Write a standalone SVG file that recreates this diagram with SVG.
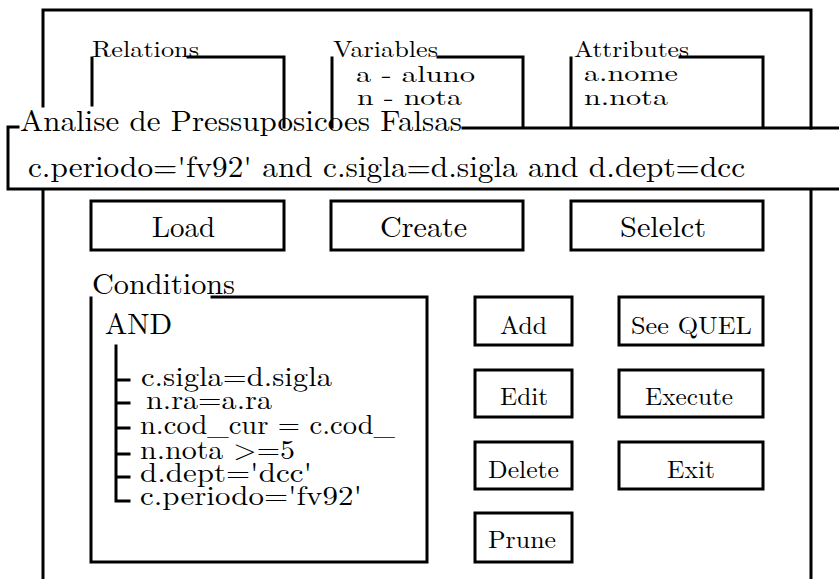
<svg xmlns="http://www.w3.org/2000/svg" width="839" height="579" viewBox="0 0 839 579">
  <style>
    .ln { fill: none; stroke: #000; stroke-width: 3; stroke-linecap: square; }
    .box { fill: none; stroke: #000; stroke-width: 3; }
    text { fill: #000; font-family: "Latin Modern Roman", "CMU Serif", "Noto Serif", "Nimbus Roman", "TeX Gyre Termes", FreeSerif, "Liberation Serif", Tinos, "Times New Roman", Times, "DejaVu Serif", serif; }
    .big { font-size: 29px; }
    .mid { font-size: 27px; }
    .btn { font-size: 25px; }
    .sm { font-size: 23px; }
  </style>
  <rect width="839" height="579" fill="#fff"/>

  <!-- main window frame -->
  <g id="window">
    <path class="ln" d="M43,106 V10 H811 V128"/>
    <path class="ln" d="M43,190 V579 M811,190 V579"/>
  </g>

  <!-- list panels -->
  <g id="relations">
    <path class="ln" d="M92,105 V58 M188,57 H284 V127"/>
    <text class="sm" x="92" y="57" textLength="107" lengthAdjust="spacingAndGlyphs">Relations</text>
  </g>
  <g id="variables">
    <path class="ln" d="M332,127 V58 M438,57 H523 V127"/>
    <text class="sm" x="333" y="57" textLength="105" lengthAdjust="spacingAndGlyphs">Variables</text>
    <text class="sm" x="356" y="82" textLength="119" lengthAdjust="spacingAndGlyphs">a - aluno</text>
    <text class="sm" x="357" y="105" textLength="105" lengthAdjust="spacingAndGlyphs">n - nota</text>
  </g>
  <g id="attributes">
    <path class="ln" d="M571,127 V58 M680,57 H763 V127"/>
    <text class="sm" x="574" y="57" textLength="115" lengthAdjust="spacingAndGlyphs">Attributes</text>
    <text class="sm" x="584" y="81" textLength="94" lengthAdjust="spacingAndGlyphs">a.nome</text>
    <text class="sm" x="584" y="105" textLength="84" lengthAdjust="spacingAndGlyphs">n.nota</text>
  </g>

  <!-- pop-up dialog -->
  <g id="dialog">
    <path class="ln" d="M18,127 H8 V189 H839 M463,128 H839"/>
    <text class="big" x="20" y="131" textLength="442" lengthAdjust="spacingAndGlyphs">Analise de Pressuposicoes Falsas</text>
    <text class="big" x="28" y="177" textLength="717" lengthAdjust="spacingAndGlyphs">c.periodo='fv92' and c.sigla=d.sigla and d.dept=dcc</text>
  </g>

  <!-- top buttons -->
  <g id="load">
    <rect class="box" x="91" y="201" width="193" height="49"/>
    <text class="big" x="152" y="237" textLength="63" lengthAdjust="spacingAndGlyphs">Load</text>
  </g>
  <g id="create">
    <rect class="box" x="331" y="201" width="192" height="49"/>
    <text class="big" x="380" y="237" textLength="87" lengthAdjust="spacingAndGlyphs">Create</text>
  </g>
  <g id="select">
    <rect class="box" x="571" y="201" width="192" height="49"/>
    <text class="big" x="620" y="237" textLength="86" lengthAdjust="spacingAndGlyphs">Selelct</text>
  </g>

  <!-- conditions tree -->
  <g id="conditions">
    <path class="ln" d="M212,297 H427 V562 H91 V298"/>
    <text class="big" x="92" y="294" textLength="143" lengthAdjust="spacingAndGlyphs">Conditions</text>
    <text class="big" x="105" y="334" textLength="67" lengthAdjust="spacingAndGlyphs">AND</text>
    <path class="ln" d="M116,346 V501 H129 M116,380 H129 M116,403 H129 M116,428 H129 M116,454 H129 M116,477 H129"/>
    <text class="mid" x="141" y="386" textLength="191" lengthAdjust="spacingAndGlyphs">c.sigla=d.sigla</text>
    <text class="mid" x="146" y="409" textLength="126" lengthAdjust="spacingAndGlyphs">n.ra=a.ra</text>
    <text class="mid" x="140" y="434" textLength="255" lengthAdjust="spacingAndGlyphs">n.cod_cur = c.cod_</text>
    <text class="mid" x="140" y="459" textLength="155" lengthAdjust="spacingAndGlyphs">n.nota &gt;=5</text>
    <text class="mid" x="140" y="482" textLength="172" lengthAdjust="spacingAndGlyphs">d.dept='dcc'</text>
    <text class="mid" x="140" y="505" textLength="222" lengthAdjust="spacingAndGlyphs">c.periodo='fv92'</text>
  </g>

  <!-- side buttons -->
  <g id="add">
    <rect class="box" x="475" y="297" width="97" height="48"/>
    <text class="btn" x="500" y="334" textLength="47" lengthAdjust="spacingAndGlyphs">Add</text>
  </g>
  <g id="see-quel">
    <rect class="box" x="619" y="297" width="144" height="48"/>
    <text class="btn" x="631" y="334" textLength="121" lengthAdjust="spacingAndGlyphs">See QUEL</text>
  </g>
  <g id="edit">
    <rect class="box" x="475" y="370" width="97" height="47"/>
    <text class="btn" x="500" y="405" textLength="48" lengthAdjust="spacingAndGlyphs">Edit</text>
  </g>
  <g id="execute">
    <rect class="box" x="619" y="370" width="144" height="47"/>
    <text class="btn" x="645" y="405" textLength="88" lengthAdjust="spacingAndGlyphs">Execute</text>
  </g>
  <g id="delete">
    <rect class="box" x="475" y="442" width="97" height="47"/>
    <text class="btn" x="488" y="478" textLength="71" lengthAdjust="spacingAndGlyphs">Delete</text>
  </g>
  <g id="exit">
    <rect class="box" x="619" y="442" width="144" height="47"/>
    <text class="btn" x="667" y="478" textLength="48" lengthAdjust="spacingAndGlyphs">Exit</text>
  </g>
  <g id="prune">
    <rect class="box" x="475" y="513" width="97" height="49"/>
    <text class="btn" x="488" y="548" textLength="68" lengthAdjust="spacingAndGlyphs">Prune</text>
  </g>
</svg>
